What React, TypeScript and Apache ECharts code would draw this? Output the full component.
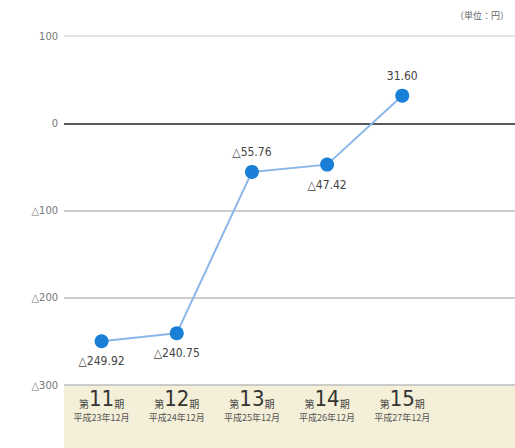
import React, { useEffect, useRef } from "react";
import * as echarts from "echarts";

const periods = ["11", "12", "13", "14", "15", ""];
const dates = ["平成23年12月", "平成24年12月", "平成25年12月", "平成26年12月", "平成27年12月", ""];
const values = [-249.92, -240.75, -55.76, -47.42, 31.6];
const labelPos = ["bottom", "bottom", "top", "bottom", "top"];
const yTicks = { min: -300, max: 100, interval: 100 };
const unitText = "（単位：円）";

const fmt = (v: number) => (v < 0 ? "△" + Math.abs(v).toFixed(2) : v.toFixed(2));

export default function App() {
  const ref = useRef<HTMLDivElement>(null);
  useEffect(() => {
    if (!ref.current) return;
    const chart = echarts.init(ref.current, null, { renderer: "svg" });
    const font = "'DejaVu Sans Condensed', 'Noto Sans CJK JP', sans-serif";
    const jp = "'Noto Sans CJK JP', sans-serif";
    chart.setOption({
      animation: false,
      backgroundColor: "#ffffff",
      grid: { left: 64, right: -1, top: 36, bottom: 63, containLabel: false },
      graphic: [
        {
          type: "rect",
          shape: { x: 64, y: 385, width: 460, height: 70 },
          style: { fill: "#f4efd8" },
          z: -1,
        },
        {
          type: "text",
          right: 6,
          top: 11,
          style: { text: unitText, fill: "#666", font: "9px 'Noto Sans CJK JP'" },
        },
      ],
      xAxis: {
        type: "category",
        data: periods,
        axisLine: { show: false },
        axisTick: { show: false },
        axisLabel: {
          interval: 0,
          margin: 1,
          formatter: (v: string, i: number) =>
            v ? `{s|第}{b|${v}}{s|期}\n{d|${dates[i]}}` : "",
          rich: {
            s: { fontSize: 10, color: "#444", fontFamily: jp, lineHeight: 24, verticalAlign: "bottom", padding: [0, 0, 2, 0] },
            b: { fontSize: 22, color: "#333", fontFamily: font, lineHeight: 24 },
            d: { fontSize: 9, color: "#555", fontFamily: jp, lineHeight: 14 },
          },
        },
      },
      yAxis: {
        type: "value",
        min: yTicks.min,
        max: yTicks.max,
        interval: yTicks.interval,
        axisLine: { show: false },
        axisTick: { show: false },
        axisLabel: {
          margin: 6,
          color: "#777",
          fontSize: 11,
          fontFamily: font,
          formatter: (v: number) => (v < 0 ? "△" + Math.abs(v) : String(v)),
        },
        splitLine: {
          lineStyle: {
            color: ["#bcbcbc", "#bcbcbc", "#bcbcbc", "#222222", "#d8d8d8"],
            width: 1.5,
          },
        },
      },
      series: [
        {
          type: "line",
          data: values.map((v, i) => ({
            value: v,
            label: { position: labelPos[i] },
          })),
          symbol: "circle",
          symbolSize: 14,
          itemStyle: { color: "#1a7fd6" },
          lineStyle: { color: "#8ab6ea", width: 2 },
          label: {
            show: true,
            distance: 7,
            color: "#444",
            fontSize: 12,
            fontFamily: font,
            formatter: (p: any) => fmt(p.value),
          },
          z: 5,
        },
      ],
    });
    return () => chart.dispose();
  }, []);
  return (
    <div
      ref={ref}
      style={{ position: "fixed", left: 0, top: 0, width: 515, height: 448 }}
    />
  );
}
